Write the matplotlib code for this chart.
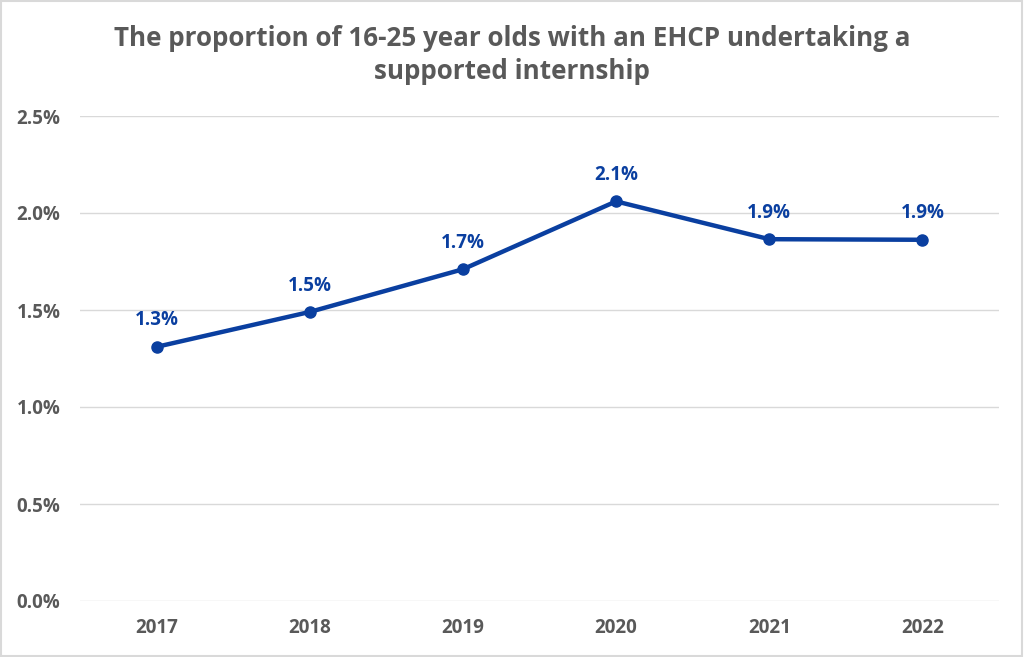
import matplotlib.pyplot as plt
from matplotlib.patches import Rectangle

plt.rcParams['font.family'] = ['Open Sans', 'DejaVu Sans']

# data
years = ["2017", "2018", "2019", "2020", "2021", "2022"]
values = [1.31, 1.49, 1.71, 2.06, 1.865, 1.862]
labels = ["1.3%", "1.5%", "1.7%", "2.1%", "1.9%", "1.9%"]
yticks = [0.0, 0.5, 1.0, 1.5, 2.0, 2.5]

line_col = "#0a3fa0"
text_col = "#595959"

fig = plt.figure(figsize=(10.24, 6.57), dpi=100)
ax = fig.add_axes([80 / 1024, 1 - 601 / 657, 919 / 1024, 485 / 657])

x = list(range(len(years)))
ax.plot(x, values, color=line_col, lw=3.2, marker='o', ms=8, zorder=3)
for xi, v, lab in zip(x, values, labels):
    ax.annotate(lab, (xi, v), xytext=(0, 19), textcoords='offset points',
                ha='center', va='center', color=line_col,
                fontsize=13.5, fontweight='bold')

ax.set_xlim(-0.5, len(years) - 0.5)
ax.set_ylim(0, 2.5)
ax.set_xticks(x)
ax.set_xticklabels(years)
ax.set_yticks(yticks)
ax.set_yticklabels([f"{t:.1f}%" for t in yticks])
ax.tick_params(length=0, labelsize=13.5, labelcolor=text_col, pad=12)
ax.tick_params(axis='y', pad=14)
for t in ax.get_xticklabels() + ax.get_yticklabels():
    t.set_fontweight('bold')
ax.grid(axis='y', color='#d9d9d9', lw=1)
ax.set_axisbelow(True)
for s in ax.spines.values():
    s.set_visible(False)

fig.text(0.5, 1 - 55 / 657,
         "The proportion of 16-25 year olds with an EHCP undertaking a\nsupported internship",
         ha='center', va='center', fontsize=18.7, fontweight='bold',
         color=text_col, linespacing=1.3)

fig.patches.append(Rectangle((0.001, 0.001), 0.997, 0.997, transform=fig.transFigure,
                             fill=False, edgecolor='#d9d9d9', lw=1.5))

fig.savefig("out.png", dpi=100)
